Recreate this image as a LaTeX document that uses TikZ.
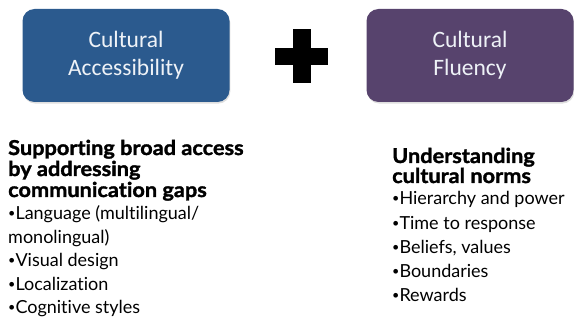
\documentclass[tikz,border=0pt]{standalone}
\usepackage{fontspec}
\setmainfont{Lato}[Ligatures=NoCommon]
\newfontfamily\boxfont{Carlito}
\newfontfamily\headfont{Lato}[Ligatures=NoCommon, UprightFont=*-Bold, FakeBold=1.6, FakeStretch=1.06]
\usetikzlibrary{shadows}
\definecolor{accblue}{HTML}{2B5A8E}
\definecolor{fluviolet}{HTML}{57436D}
\definecolor{boxtext}{HTML}{EEF2F7}
\newcommand{\bul}{\raisebox{0.12em}{\scalebox{0.7}{•}}}
\begin{document}
\begin{tikzpicture}[x=1pt,y=-1pt,
  topicbox/.style={rounded corners=12pt, minimum width=207pt, minimum height=93pt,
    align=center, text=boxtext, inner sep=0pt,
    font=\boxfont\fontsize{23.5}{28}\selectfont,
    drop shadow={shadow xshift=0.8pt, shadow yshift=-1.6pt, opacity=0.25}},
  headline/.style={anchor=base west, inner sep=0pt, font=\headfont\fontsize{20.5}{21}\selectfont},
  itemline/.style={anchor=base west, inner sep=0pt, font=\fontsize{18}{24}\selectfont}]
\useasboundingbox (0,0) rectangle (574,326);

% the two topic boxes
\node[topicbox, fill=accblue]    (acc) at (126,55.5) {Cultural\\Accessibility};
\node[topicbox, fill=fluviolet]  (flu) at (470,55.5) {Cultural\\Fluency};

% plus sign between them
\fill[black] (275,48) rectangle (328,65);
\fill[black] (293,29) rectangle (311,83);

% left column
\node[headline] (lh1) at (8,155) {Supporting broad access};
\node[headline] (lh2) at (8,176) {by addressing};
\node[headline] (lh3) at (8,197) {communication gaps};
\node[itemline] (li1) at (8,220) {\bul Language (multilingual/};
\node[itemline] (li2) at (8,243.5) {monolingual)};
\node[itemline] (li3) at (8,267) {\bul Visual design};
\node[itemline] (li4) at (8,290.5) {\bul Localization};
\node[itemline] (li5) at (8,314) {\bul Cognitive styles};

% right column
\node[headline] (rh1) at (392,163) {Understanding};
\node[headline] (rh2) at (392,183) {cultural norms};
\node[itemline] (ri1) at (392,204.5) {\bul Hierarchy and power};
\node[itemline] (ri2) at (392,229.5) {\bul Time to response};
\node[itemline] (ri3) at (392,253.5) {\bul Beliefs, values};
\node[itemline] (ri4) at (392,278) {\bul Boundaries};
\node[itemline] (ri5) at (392,302) {\bul Rewards};
\end{tikzpicture}
\end{document}
